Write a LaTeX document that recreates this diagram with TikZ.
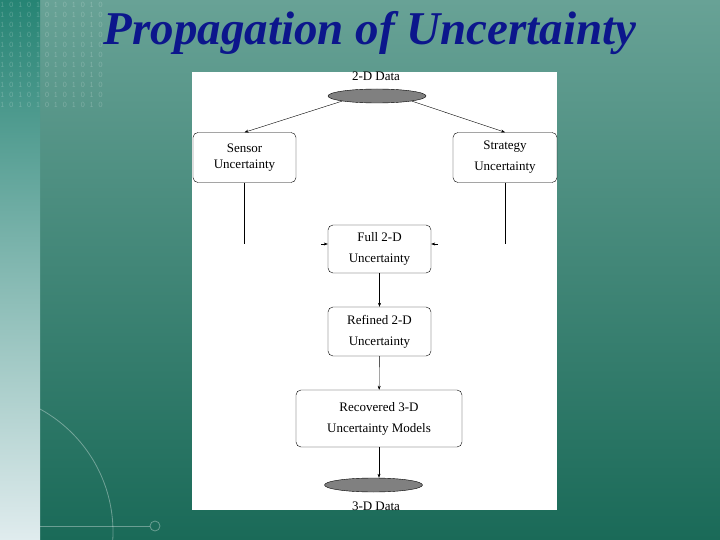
\documentclass[tikz,border=0pt]{standalone}
\usepackage{fontspec}
\setmainfont{Liberation Serif}
\usetikzlibrary{shapes.geometric,arrows.meta,positioning}
\definecolor{slidetop}{RGB}{104,162,150}
\definecolor{slidebot}{RGB}{26,106,88}
\definecolor{striptop}{RGB}{38,132,116}
\definecolor{stripbot}{RGB}{224,236,238}
\definecolor{titleblue}{RGB}{12,22,140}
\definecolor{datagray}{RGB}{128,128,128}
\tikzset{
  box/.style={draw, rounded corners=5pt, align=center, font=\fontsize{13}{21}\selectfont,
    minimum width=103pt, minimum height=50pt},
  data/.style={ellipse, draw, fill=datagray, minimum width=98pt, minimum height=14pt, inner sep=0pt},
  lbl/.style={font=\fontsize{13}{14}\selectfont},
  flow/.style={-{Stealth[length=4pt,width=3pt]}},
  bits/.style={anchor=west, inner sep=0pt, text=white, text opacity=0.22,
    font=\fontsize{8.5}{8.5}\ttfamily},
  deco/.style={draw=white, draw opacity=0.35, line width=0.8pt},
}
\begin{document}
\begin{tikzpicture}[x=1pt,y=-1pt]
\useasboundingbox (0,0) rectangle (720,540);
% slide background
\shade[top color=slidetop, bottom color=slidebot] (0,0) rectangle (720,540);
\shade[top color=striptop, bottom color=stripbot] (0,0) rectangle (40,540);
\foreach \r in {0,...,10}
  \node[bits] (bits\r) at (0,5+10*\r) {1 0 1 0 1 0 1 0 1 0 1 0};
\begin{scope}
  \clip (40,0) rectangle (720,540);
  \draw[deco] (-27,532) circle (140pt);
\end{scope}
\draw[deco] (40,526) -- (150,526);
\draw[deco] (155,526) circle (5pt);
% title
\node[anchor=base, inner sep=0pt, text=titleblue, font=\fontsize{47}{50}\selectfont\bfseries\itshape] (title) at (370,45) {Propagation of Uncertainty};
% white panel
\fill[white] (192,72) rectangle (557,510);
% flowchart
\node[data] (src) at (377,96) {};
\node[lbl] (srclbl) at (376,76) {2-D Data};
\node[box, font=\fontsize{13}{16}\selectfont] (sensor) at (244.5,157.5) {Sensor\\Uncertainty};
\node[box, minimum width=104pt] (strategy) at (505,157.5) {Strategy\\Uncertainty};
\node[box, minimum height=48pt] (full) at (379.5,249) {Full 2-D\\Uncertainty};
\node[box, minimum height=49pt] (refined) at (379.5,331.5) {Refined 2-D\\Uncertainty};
\node[box, minimum width=166pt, minimum height=57pt] (recovered) at (379,418.5) {Recovered 3-D\\Uncertainty Models};
\node[data] (dst) at (373.5,485) {};
\node[lbl] (dstlbl) at (376,506) {3-D Data};

\draw[flow] (src.south west) -- (sensor.north);
\draw[flow] (src.south east) -- (strategy.north);

\coordinate (sensorend) at (sensor.south |- 0,244);
\coordinate (strategyend) at (strategy.south |- 0,244);
\draw (sensor.south) -- (sensorend);
\draw (strategy.south) -- (strategyend);
\coordinate (fullinl) at (321,244);
\coordinate (fullinr) at (438,244);
\draw[flow] (fullinl) -- (full.west |- fullinl);
\draw[flow] (fullinr) -- (full.east |- fullinr);

\draw[flow] (full) -- (refined);
\draw[flow] (refined) -- (recovered);
\draw[flow] (recovered.south) -- (recovered.south |- dst.north);
\end{tikzpicture}
\end{document}
